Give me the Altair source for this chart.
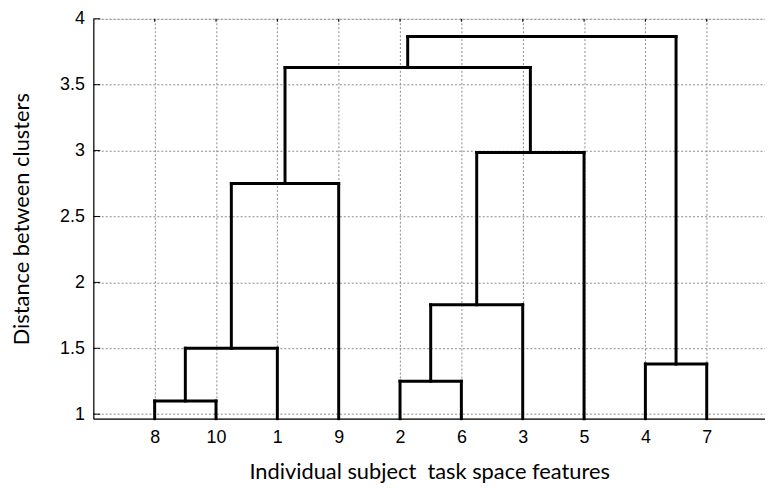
import json
import altair as alt
import pandas as pd

# ---- data ----
leaf_labels = ["8", "10", "1", "9", "2", "6", "3", "5", "4", "7"]
# merges: (child a, child b, height); "L#" = leaf index, "M#" = earlier merge
merge_a = ["L0", "M0", "M1", "L4", "M3", "M4", "M2", "L8", "M6"]
merge_b = ["L1", "L2", "L3", "L5", "L6", "L7", "M5", "L9", "M7"]
merge_h = [1.10, 1.50, 2.75, 1.25, 1.83, 2.985, 3.63, 1.38, 3.865]
y_ticks = [1, 1.5, 2, 2.5, 3, 3.5, 4]

xdom = [0, 10.95]
ydom = [0.966, 4]

# ---- build dendrogram segments from the tree structure ----
node_x, node_y = {}, {}
for i in range(len(leaf_labels)):
    node_x[f"L{i}"] = i + 1
    node_y[f"L{i}"] = ydom[0]
segs = []
for k, (a, b, h) in enumerate(zip(merge_a, merge_b, merge_h)):
    xa, xb = node_x[a], node_x[b]
    segs.append({"x": xa, "x2": xa, "y": node_y[a], "y2": h})
    segs.append({"x": xb, "x2": xb, "y": node_y[b], "y2": h})
    segs.append({"x": xa, "x2": xb, "y": h, "y2": h})
    node_x[f"M{k}"] = (xa + xb) / 2
    node_y[f"M{k}"] = h
seg_df = pd.DataFrame(segs)

xscale = alt.Scale(domain=xdom, nice=False, zero=False)
yscale = alt.Scale(domain=ydom, nice=False, zero=False)

label_expr = json.dumps(leaf_labels) + "[datum.value - 1]"

grid_df = pd.DataFrame({"x": list(range(1, len(leaf_labels) + 1))})
ytick_df = pd.DataFrame({"y": y_ticks})

LABEL_FONT = "Liberation Sans, Arial, sans-serif"

base_x = alt.X(
    "x:Q", scale=xscale,
    axis=alt.Axis(
        values=list(range(1, len(leaf_labels) + 1)),
        labelExpr=label_expr,
        title="Individual subject\u00a0 task space features",
        grid=True, gridDash=[2, 2], gridColor="#8a8a8a", gridWidth=1,
        ticks=False, domainColor="black", domainWidth=1.2,
        labelFont=LABEL_FONT, labelFontSize=18, labelColor="black",
        labelPadding=10,
        titleFont="Lato", titleFontSize=22, titleFontWeight="normal",
        titleColor="black", titlePadding=15,
    ),
)

grid_layer = alt.Chart(grid_df).mark_rule(opacity=0).encode(
    x=base_x,
    y=alt.Y(
        "yy:Q", scale=yscale,
        axis=alt.Axis(
            values=y_ticks, format="~g",
            title="Distance between clusters",
            grid=True, gridDash=[2, 2], gridColor="#8a8a8a", gridWidth=1,
            ticks=False, domainColor="black", domainWidth=1.2,
            labelFont=LABEL_FONT, labelFontSize=18, labelColor="black",
            labelPadding=9,
            titleFont="Lato", titleFontSize=22, titleFontWeight="normal",
            titleColor="black", titlePadding=26,
        ),
    ),
).transform_calculate(yy="1")

# inward ticks on left axis
left_ticks = alt.Chart(ytick_df).mark_rule(color="black", strokeWidth=1).encode(
    x=alt.value(0), x2=alt.value(7), y=alt.Y("y:Q", scale=yscale)
)
# small ticks at the top edge
top_ticks = alt.Chart(grid_df).mark_rule(color="black", strokeWidth=1).encode(
    x=alt.X("x:Q", scale=xscale), y=alt.value(0), y2=alt.value(3)
)

dendro = alt.Chart(seg_df).mark_rule(
    color="black", strokeWidth=3, strokeCap="square"
).encode(
    x=alt.X("x:Q", scale=xscale),
    x2="x2:Q",
    y=alt.Y("y:Q", scale=yscale),
    y2="y2:Q",
)

chart = (
    alt.layer(grid_layer, left_ticks, top_ticks, dendro)
    .properties(
        width=677, height=403,
        autosize=alt.AutoSizeParams(type="none"),
        padding={"left": 86, "top": 9, "right": 0, "bottom": 66},
    )
    .configure_view(stroke=None)
    .configure(background="white")
)

chart.save("out.html", embed_options={"renderer": "svg", "actions": False})
